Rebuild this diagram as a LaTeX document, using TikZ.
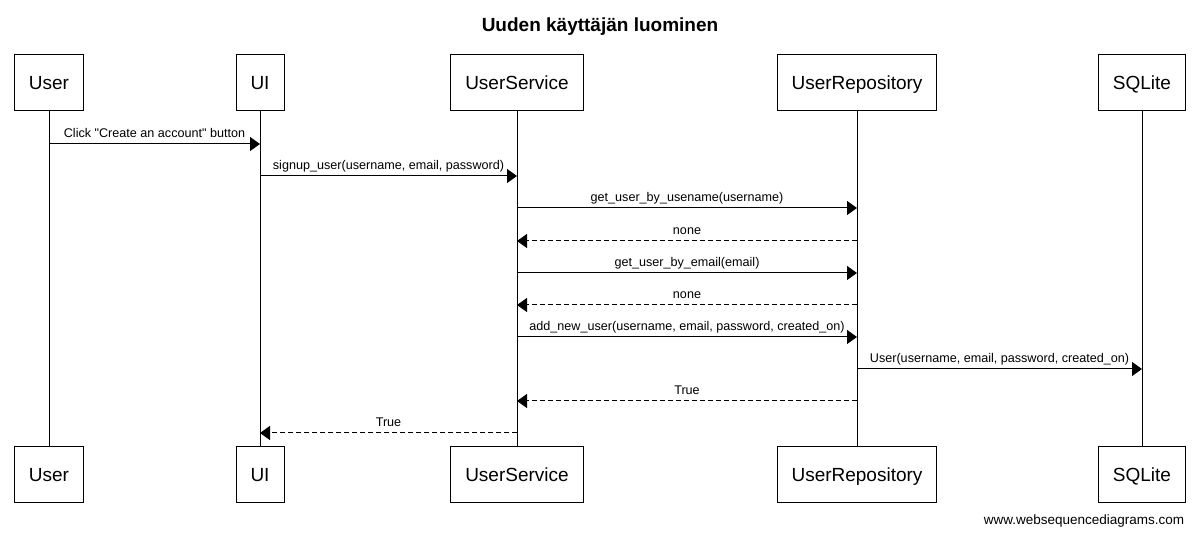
\documentclass[tikz,border=0pt]{standalone}
\usepackage{fontspec}
\setmainfont{Liberation Sans}
\usetikzlibrary{arrows.meta}

\begin{document}
\begin{tikzpicture}[x=1pt,y=-1pt,line width=1pt,>={Triangle[length=10pt,width=14pt]}]
\tikzstyle{every node}=[font=\fontsize{12.6}{15}\selectfont]
\tikzstyle{party}=[draw,line width=1pt,minimum height=56pt,inner xsep=14.5pt,text height=16pt,text depth=2pt,font=\fontsize{19}{22}\selectfont]
\tikzstyle{call}=[->]
\tikzstyle{reply}=[->,dash pattern=on 5pt off 3pt]
\tikzstyle{msg}=[above,inner sep=2pt,text depth=4pt]

\useasboundingbox (0,0) rectangle (1200,534);

\node[font=\bfseries\fontsize{19}{22}\selectfont] (title) at (600,27) {Uuden käyttäjän luominen};

\node[party] (user) at (49,83) {User};
\node[party] (ui) at (260,83) {UI};
\node[party] (service) at (517,83) {UserService};
\node[party] (repo) at (857,83) {UserRepository};
\node[party] (sqlite) at (1142,83) {SQLite};

\node[party] (user2) at (49,474.5) {User};
\node[party] (ui2) at (260,474.5) {UI};
\node[party] (service2) at (517,474.5) {UserService};
\node[party] (repo2) at (857,474.5) {UserRepository};
\node[party] (sqlite2) at (1142,474.5) {SQLite};

\draw (user) -- (user2);
\draw (ui) -- (ui2);
\draw (service) -- (service2);
\draw (repo) -- (repo2);
\draw (sqlite) -- (sqlite2);

% one point per lifeline and message row
\foreach \p/\x in {user/49,ui/260,service/517,repo/857,sqlite/1142}
  \foreach \r/\y in {1/144,2/176,3/208,4/241,5/273,6/305,7/337,8/369,9/401,10/433}
    \coordinate (\p\r) at (\x,\y);

\path[call] (user1) edge node[msg]{Click \textquotedbl Create an account\textquotedbl{} button} (ui1);
\path[call] (ui2) edge node[msg]{signup\_user(username, email, password)} (service2);
\path[call] (service3) edge node[msg]{get\_user\_by\_usename(username)} (repo3);
\path[reply] (repo4) edge node[msg]{none} (service4);
\path[call] (service5) edge node[msg]{get\_user\_by\_email(email)} (repo5);
\path[reply] (repo6) edge node[msg]{none} (service6);
\path[call] (service7) edge node[msg]{add\_new\_user(username, email, password, created\_on)} (repo7);
\path[call] (repo8) edge node[msg]{User(username, email, password, created\_on)} (sqlite8);
\path[reply] (repo9) edge node[msg]{True} (service9);
\path[reply] (service10) edge node[msg]{True} (ui10);

\node[anchor=east,font=\fontsize{13.5}{16}\selectfont] (credit) at (1188,521) {www.websequencediagrams.com};

\end{tikzpicture}
\end{document}
